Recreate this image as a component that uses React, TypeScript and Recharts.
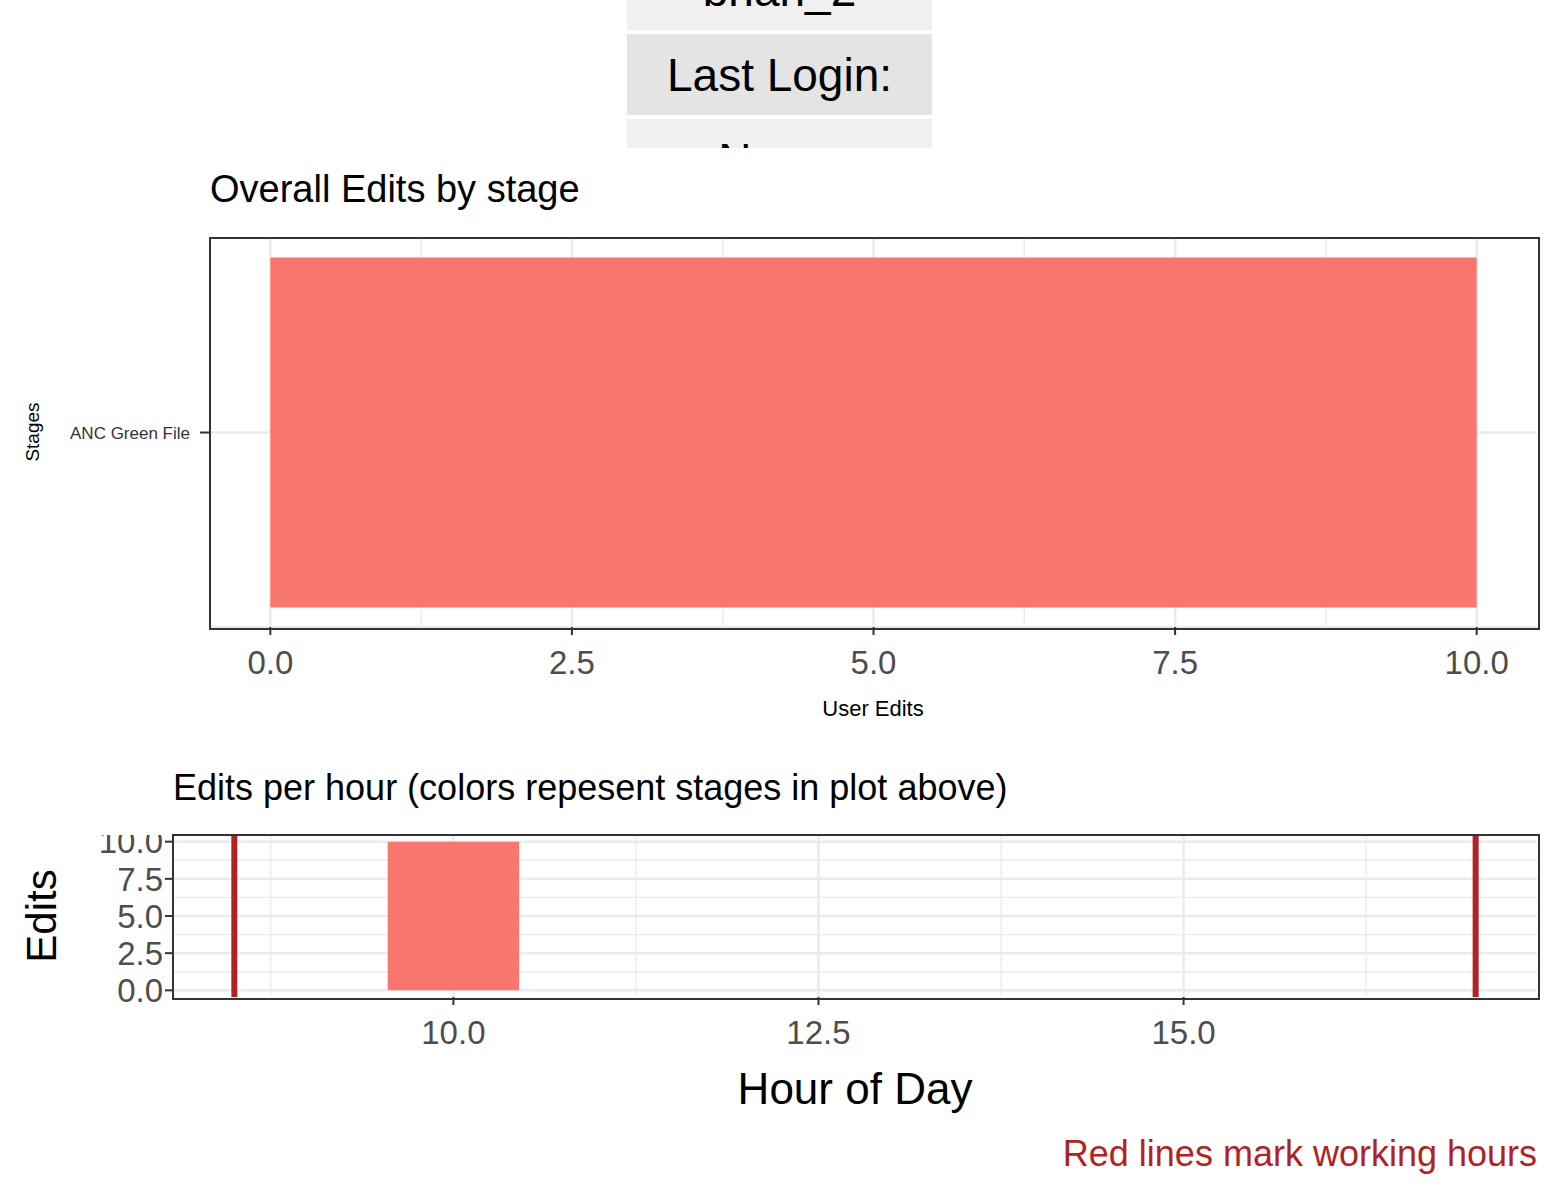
import { ComposedChart, Bar, Line, XAxis, YAxis, CartesianGrid, ReferenceLine, ReferenceArea } from 'recharts'

const stages = ['ANC Green File']
const stageEdits = [10]
const stageColors = ['#F8766D']
const editTicks = [0, 2.5, 5, 7.5, 10]
const editMinor = [1.25, 3.75, 6.25, 8.75]

const hours = [10]
const hourEdits = [10]
const hourTicks = [10, 12.5, 15]
const hourMinor = [8.75, 11.25, 13.75, 16.25]
const workHours = [8.5, 17]
const editsMinor = [1.25, 3.75, 6.25, 8.75]

const FONT = '"Liberation Sans", Arial, sans-serif'
const GRID = '#ebebeb'

const fmt = (v: number) => v.toFixed(1)

const stageData = stages.map((s, i) => ({ stage: s, edits: stageEdits[i] }))
const hourData = hours.map((h, i) => ({ hour: h, edits: hourEdits[i] }))

function Txt({ x, y, size, children, color = '#000', rotate, align }: any) {
  return (
    <div
      style={{
        position: 'absolute',
        left: x,
        top: y,
        fontSize: size,
        color,
        fontFamily: FONT,
        whiteSpace: 'nowrap',
        transform: rotate ? 'translate(-50%,-50%) rotate(-90deg)' : align === 'center' ? 'translate(-50%,0)' : align === 'right' ? 'translate(-100%,0)' : undefined,
      }}
    >
      {children}
    </div>
  )
}

function Cell({ top, bg, text }: { top: number; bg: string; text: string }) {
  return (
    <div
      style={{
        position: 'absolute', left: 0, top, width: 305, height: 81, background: bg,
        fontSize: 46, fontFamily: FONT, display: 'flex', alignItems: 'center', justifyContent: 'center',
      }}
    >
      {text}
    </div>
  )
}

export default function App() {
  return (
    <div style={{ position: 'absolute', left: 0, top: 0, width: 1560, height: 1200, background: '#fff', fontFamily: FONT }}>
      <div style={{ position: 'absolute', left: 627, top: 0, width: 305, height: 148, overflow: 'hidden' }}>
        <Cell top={-51} bg="#f0f0f0" text="bhan_2" />
        <Cell top={34} bg="#e4e4e4" text="Last Login:" />
        <Cell top={119} bg="#f0f0f0" text="Never" />
      </div>

      <Txt x={210} y={168} size={38}>Overall Edits by stage</Txt>
      <Txt x={33} y={432} size={19} rotate>Stages</Txt>
      <Txt x={873} y={696} size={22} align="center">User Edits</Txt>

      <div style={{ position: 'absolute', left: 0, top: 238 }}>
        <ComposedChart width={1560} height={479} data={stageData} layout="vertical" barCategoryGap="5%"
          margin={{ top: 0, right: 23, bottom: 0, left: 0 }}>
          <CartesianGrid stroke={GRID} strokeWidth={1.3} horizontal={false} verticalValues={editMinor} />
          <CartesianGrid stroke={GRID} strokeWidth={2.5} verticalValues={editTicks} />
          <XAxis type="number" dataKey="edits" domain={[-0.5, 10.5]} ticks={editTicks} tickFormatter={fmt} interval={0}
            height={90} tickSize={8} stroke="#333" strokeWidth={2} axisLine={false}
            tick={{ fontSize: 33, fill: '#4d4d4d', fontFamily: FONT, dy: 14 }} />
          <YAxis type="category" dataKey="stage" width={210} tickSize={10} stroke="#333" strokeWidth={2} axisLine={false}
            tick={{ fontSize: 17, fill: '#333', fontFamily: FONT, dx: -8 }} />
          <Bar dataKey="edits" fill={stageColors[0]} isAnimationActive={false} />
        </ComposedChart>
      </div>
      <div style={{ position: 'absolute', left: 209, top: 237, width: 1327, height: 389, border: '2px solid #333', pointerEvents: 'none' }} />

      <Txt x={173} y={767} size={36}>Edits per hour (colors repesent stages in plot above)</Txt>
      <Txt x={42} y={916} size={42} rotate>Edits</Txt>
      <Txt x={855} y={1064} size={44} align="center">Hour of Day</Txt>
      <Txt x={1537} y={1133} size={36} color="#b22222" align="right">Red lines mark working hours</Txt>

      <div style={{ position: 'absolute', left: 0, top: 835 }}>
        <ComposedChart width={1560} height={232} data={hourData} margin={{ top: 0, right: 23, bottom: 0, left: 0 }}>
          <CartesianGrid stroke={GRID} strokeWidth={1.3} verticalValues={hourMinor} horizontalValues={editsMinor} />
          <CartesianGrid stroke={GRID} strokeWidth={2.5} verticalValues={hourTicks} horizontalValues={editTicks} />
          <XAxis type="number" dataKey="hour" domain={[8.08, 17.42]} ticks={hourTicks} tickFormatter={fmt} interval={0}
            height={70} tickSize={8} stroke="#333" strokeWidth={2} axisLine={false} allowDataOverflow
            tick={{ fontSize: 33, fill: '#4d4d4d', fontFamily: FONT, dy: 14 }} />
          <YAxis type="number" domain={[-0.45, 10.45]} ticks={editTicks} tickFormatter={fmt} width={173} interval={0}
            tickSize={8} stroke="#333" strokeWidth={2} axisLine={false} allowDataOverflow
            tick={{ fontSize: 33, fill: '#4d4d4d', fontFamily: FONT }} />
          {hourData.map((d) => (
            <ReferenceArea key={d.hour} x1={d.hour - 0.45} x2={d.hour + 0.45} y1={0} y2={d.edits}
              fill={stageColors[0]} fillOpacity={1} stroke="none" />
          ))}
          {workHours.map((h) => <ReferenceLine key={'w' + h} x={h} stroke="#b22222" strokeWidth={6} />)}
          <Line dataKey="edits" stroke="none" dot={{ r: 0, fill: 'none', stroke: 'none' }} activeDot={false} isAnimationActive={false} />
        </ComposedChart>
      </div>
      <div style={{ position: 'absolute', left: 172, top: 834, width: 1364, height: 162, border: '2px solid #333', pointerEvents: 'none' }} />
    </div>
  )
}
